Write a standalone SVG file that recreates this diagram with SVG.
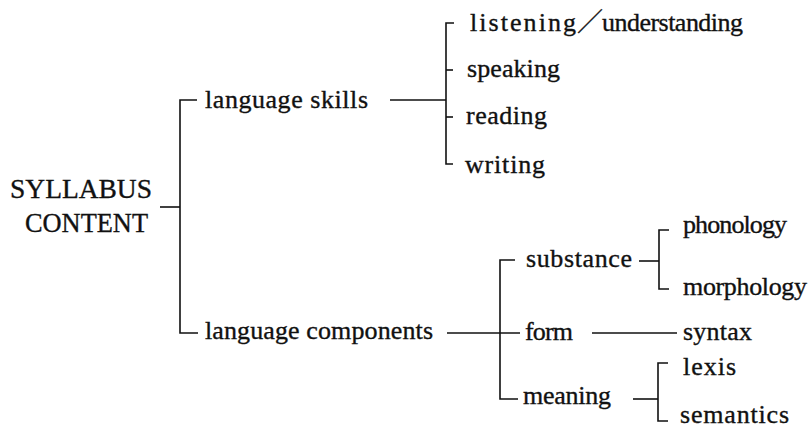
<svg xmlns="http://www.w3.org/2000/svg" width="812" height="429" viewBox="0 0 812 429">
<style>
text{font-family:"Liberation Serif","DejaVu Serif","Noto Sans CJK SC",serif;fill:#111;stroke:#111;stroke-width:0.35;font-size:26px}
.root{font-size:27px}
.c line,.c path{stroke:#111;stroke-width:1.6;fill:none}
</style>
<rect width="812" height="429" fill="#fff"/>
<g class="c" id="connectors">
<line x1="160" y1="207" x2="180" y2="207"/>
<path d="M197 100 H180 V333 H198"/>
<line x1="390" y1="100" x2="446" y2="100"/>
<path d="M454 23 H446 V164 H453"/>
<line x1="446" y1="70" x2="453" y2="70"/>
<line x1="446" y1="117" x2="453" y2="117"/>
<line x1="447" y1="333" x2="520" y2="333"/>
<path d="M515 260 H500 V399 H518"/>
<line x1="639" y1="261" x2="659" y2="261"/>
<path d="M669 230 H659 V289 H669"/>
<line x1="592" y1="333" x2="677" y2="333"/>
<line x1="633" y1="399" x2="658" y2="399"/>
<path d="M668 363 H658 V421 H668"/>
</g>
<g id="root"><text class="root" x="10" y="198" textLength="142" lengthAdjust="spacingAndGlyphs">SYLLABUS</text><text class="root" x="25" y="232" textLength="123" lengthAdjust="spacingAndGlyphs">CONTENT</text></g>
<g id="skills"><text x="205" y="108" textLength="163">language skills</text></g>
<g id="listening"><text y="31"><tspan x="470" textLength="106">listening</tspan><tspan x="577">／</tspan><tspan x="602" textLength="141">understanding</tspan></text></g>
<g id="speaking"><text x="467" y="77" textLength="93">speaking</text></g>
<g id="reading"><text x="466" y="124" textLength="81">reading</text></g>
<g id="writing"><text x="465" y="173" textLength="80">writing</text></g>
<g id="components"><text x="205" y="339" textLength="228">language components</text></g>
<g id="substance"><text x="526" y="267" textLength="106">substance</text></g>
<g id="form"><text x="525" y="340" textLength="48">form</text></g>
<g id="meaning"><text x="523" y="404" textLength="88">meaning</text></g>
<g id="phonology"><text x="683" y="233" textLength="104">phonology</text></g>
<g id="morphology"><text x="683" y="295" textLength="124">morphology</text></g>
<g id="syntax"><text x="683" y="340" textLength="69">syntax</text></g>
<g id="lexis"><text x="683" y="375" textLength="53">lexis</text></g>
<g id="semantics"><text x="680" y="423" textLength="109">semantics</text></g>
</svg>
